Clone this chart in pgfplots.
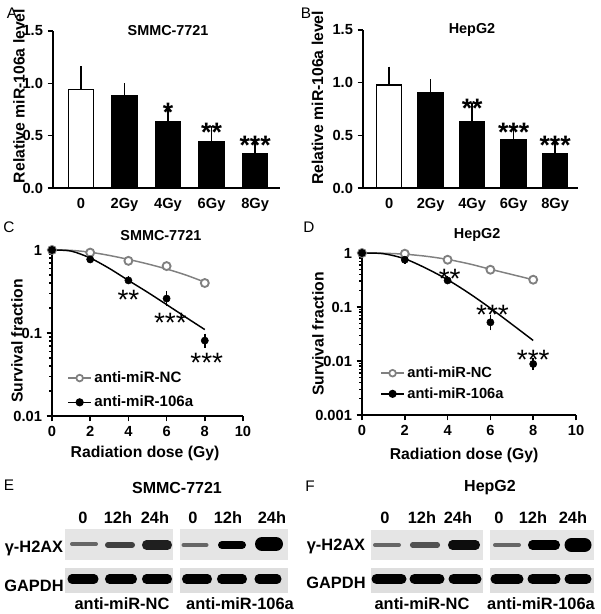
\documentclass[border=0pt]{standalone}
\usepackage{fontspec}
\setmainfont{Liberation Sans}
\usepackage{pgfplots}
\pgfplotsset{compat=1.18}
\definecolor{ncgray}{RGB}{128,128,128}
\definecolor{blotbg}{RGB}{229,229,229}
\definecolor{blotbg2}{RGB}{222,222,222}

\newcommand\tk{\bfseries\fontsize{11}{12}\selectfont}
\newcommand\lb{\bfseries\fontsize{11.8}{13}\selectfont}
\newcommand\ttl{\bfseries\fontsize{10.8}{12}\selectfont}
\newcommand\bttl{\bfseries\fontsize{12}{14}\selectfont}
\newcommand\rl{\bfseries\fontsize{12.3}{14}\selectfont}
\newcommand\pl{\fontsize{11.5}{13}\selectfont}
\newcommand\bstar{\bfseries\fontsize{20}{20}\selectfont}
\newcommand\lstar{\fontsize{21}{21}\selectfont}

\pgfplotsset{
  prism/.style={scale only axis, axis lines=left,
    axis line style={-, line width=1.1pt},
    tick style={line width=1.1pt, black}, tick align=outside,
    major tick length=4pt, minor tick length=2.2pt,
    ticklabel style={font=\tk}, label style={font=\lb},
    clip=false, /pgf/number format/assume math mode=true},
  colbar/.style={ybar, bar width=18.75pt, bar shift=0pt, draw=black, line width=1.1pt,
    error bars/y dir=plus, error bars/y explicit,
    error bars/error bar style={line width=1.1pt},
    error bars/error mark options={line width=1.1pt, mark size=6.5pt}},
  blot/.style={scale only axis, axis lines=none, clip=false,
    ymin=0, ymax=80, height=60pt},
  box/.style={draw=none, forget plot},
  band/.style={line cap=round, forget plot},
}

\begin{document}
\begin{tikzpicture}[x=0.75pt, y=0.75pt]
\path[use as bounding box] (0,0) rectangle (600,614);

% ---------- A ----------
\begin{axis}[prism, at={(39.75pt,319.5pt)}, anchor=south west,
  width=170.25pt, height=117.75pt,
  xmin=-0.64, xmax=4.57, ymin=0, ymax=1.5,
  xtick={0,1,2,3,4}, xticklabels={0,2Gy,4Gy,6Gy,8Gy},
  xtick style={draw=none},
  ytick={0,0.5,1,1.5}, yticklabels={0.0,0.5,1.0,1.5},
  ylabel={Relative miR-106a level},
  ylabel style={at={(axis description cs:-0.15,0.586)}, anchor=center}]
\addplot[colbar, fill=white] coordinates {(0,0.94) +- (0,0.14)};
\addplot[colbar, fill=black] coordinates {
  (1,0.88) +- (0,0.04)
  (2,0.63) +- (0,0.07)
  (3,0.44) +- (0,0.07)
  (4,0.33) +- (0,0.07)};
\node[font=\ttl] at (rel axis cs:0.507,1.0) {SMMC-7721};
\node[font=\bstar, yshift=-5pt] at (axis cs:2,0.79) {*};
\node[font=\bstar, yshift=-5pt] at (axis cs:3,0.595) {**};
\node[font=\bstar, yshift=-5pt] at (axis cs:4,0.47) {***};
\end{axis}

% ---------- B ----------
\begin{axis}[prism, at={(272.25pt,319.5pt)}, anchor=south west,
  width=161.25pt, height=118.5pt,
  xmin=-0.63, xmax=4.55, ymin=0, ymax=1.5,
  xtick={0,1,2,3,4}, xticklabels={0,2Gy,4Gy,6Gy,8Gy},
  xtick style={draw=none},
  ytick={0,0.5,1,1.5}, yticklabels={0.0,0.5,1.0,1.5},
  ylabel={Relative miR-106a level},
  ylabel style={at={(axis description cs:-0.212,0.57)}, anchor=center}]
\addplot[colbar, fill=white] coordinates {(0,0.98) +- (0,0.09)};
\addplot[colbar, fill=black] coordinates {
  (1,0.90) +- (0,0.05)
  (2,0.63) +- (0,0.09)
  (3,0.46) +- (0,0.05)
  (4,0.33) +- (0,0.06)};
\node[font=\ttl] at (rel axis cs:0.507,1.0) {HepG2};
\node[font=\bstar, yshift=-5pt] at (axis cs:2,0.82) {**};
\node[font=\bstar, yshift=-5pt] at (axis cs:3,0.59) {***};
\node[font=\bstar, yshift=-5pt] at (axis cs:4,0.465) {***};
\end{axis}

% ---------- C ----------
\begin{axis}[prism, at={(39pt,148.5pt)}, anchor=south west,
  width=143.25pt, height=124.5pt,
  xmin=0, xmax=10, ymode=log, ymin=0.01, ymax=1,
  xtick={0,2,4,6,8,10}, xticklabels={0,2,4,6,8,10},
  ytick={0.01,0.1,1}, yticklabels={0.01,0.1,1},
  xlabel={Radiation dose (Gy)},
  xlabel style={at={(axis description cs:0.487,-0.223)}, anchor=center},
  ylabel={Survival fraction},
  ylabel style={at={(axis description cs:-0.183,0.452)}, anchor=center},
  legend style={draw=none, fill=none, at={(rel axis cs:0.08,0.285)}, anchor=north west,
    font=\bfseries\fontsize{11.3}{13}\selectfont, row sep=4.5pt, inner sep=0pt},
  legend cell align=left]
% fitted curves
\addplot[ncgray, line width=1.1pt, smooth, forget plot] coordinates {
  (0,1) (1,0.99) (2,0.94) (3,0.86) (4,0.77) (5,0.68) (6,0.59) (7,0.50) (8,0.41)};
\addplot[ncgray, only marks, mark=*, mark size=3pt,
  mark options={fill=white, line width=1.4pt}, forget plot] coordinates {
  (0,1) (2,0.93) (4,0.74) (6,0.64) (8,0.40)};
\addplot[black, line width=1.1pt, smooth, forget plot] coordinates {
  (0,1) (1,0.97) (2,0.80) (3,0.60) (4,0.43) (5,0.31) (6,0.22) (7,0.155) (8,0.11)};
\addplot[black, only marks, mark=*, mark size=2.7pt, forget plot,
  error bars/.cd, y dir=both, y explicit,
  error bar style={line width=1.3pt},
  error mark options={line width=1.3pt, mark size=3pt}] coordinates {
  (0,1) +- (0,0)
  (2,0.77) +- (0,0)
  (4,0.43) +- (0,0)
  (6,0.26) +- (0,0.025)
  (8,0.081) +- (0,0.007)};
\addlegendimage{ncgray, line width=1.1pt, mark=*, mark size=2.5pt, mark options={fill=white, line width=1.3pt}}
\addlegendentry{anti-miR-NC}
\addlegendimage{black, line width=1.1pt, mark=*, mark size=2.5pt}
\addlegendentry{anti-miR-106a}
\node[font=\ttl] at (rel axis cs:0.57,1.09) {SMMC-7721};
\node[font=\lstar, yshift=-5pt] at (axis cs:4.0,0.30) {**};
\node[font=\lstar, yshift=-5pt] at (axis cs:6.2,0.16) {***};
\node[font=\lstar, yshift=-5pt] at (axis cs:8.1,0.052) {***};
\end{axis}

% ---------- D ----------
\begin{axis}[prism, at={(271.5pt,149.25pt)}, anchor=south west,
  width=160.5pt, height=121.5pt,
  xmin=0, xmax=10, ymode=log, ymin=0.001, ymax=1,
  xtick={0,2,4,6,8,10}, xticklabels={0,2,4,6,8,10},
  ytick={0.001,0.01,0.1,1}, yticklabels={0.001,0.01,0.1,1},
  xlabel={Radiation dose (Gy)},
  xlabel style={at={(axis description cs:0.477,-0.247)}, anchor=center},
  ylabel={Survival fraction},
  ylabel style={at={(axis description cs:-0.206,0.5)}, anchor=center},
  legend style={draw=none, fill=none, at={(rel axis cs:0.085,0.315)}, anchor=north west,
    font=\bfseries\fontsize{11}{13}\selectfont, row sep=2pt, inner sep=0pt},
  legend cell align=left]
\addplot[ncgray, line width=1.1pt, smooth, forget plot] coordinates {
  (0,1) (1,0.99) (2,0.95) (3,0.87) (4,0.76) (5,0.63) (6,0.50) (7,0.40) (8,0.32)};
\addplot[ncgray, only marks, mark=*, mark size=3pt,
  mark options={fill=white, line width=1.4pt}, forget plot] coordinates {
  (0,1) (2,0.97) (4,0.75) (6,0.49) (8,0.32)};
\addplot[black, line width=1.1pt, smooth, forget plot] coordinates {
  (0,1) (1,0.97) (2,0.78) (3,0.52) (4,0.32) (5,0.18) (6,0.095) (7,0.048) (8,0.024)};
\addplot[black, only marks, mark=*, mark size=2.7pt, forget plot,
  error bars/.cd, y dir=both, y explicit,
  error bar style={line width=1.3pt},
  error mark options={line width=1.3pt, mark size=3pt}] coordinates {
  (0,1) +- (0,0)
  (2,0.75) +- (0,0)
  (4,0.31) +- (0,0)
  (6,0.052) +- (0,0.008)
  (8,0.0088) +- (0,0.0008)};
\addlegendimage{ncgray, line width=1.1pt, mark=*, mark size=2.5pt, mark options={fill=white, line width=1.3pt}}
\addlegendentry{anti-miR-NC}
\addlegendimage{black, line width=1.1pt, mark=*, mark size=2.5pt}
\addlegendentry{anti-miR-106a}
\node[font=\ttl] at (rel axis cs:0.538,1.11) {HepG2};
\node[font=\lstar, yshift=-5pt] at (axis cs:4.1,0.45) {**};
\node[font=\lstar, yshift=-5pt] at (axis cs:6.1,0.095) {***};
\node[font=\lstar, yshift=-5pt] at (axis cs:8.0,0.014) {***};
\end{axis}

% ---------- E (blot; y = 600 - pixel row) ----------
\begin{axis}[blot, at={(45pt,10.5pt)}, anchor=south west,
  width=180pt, xmin=60, xmax=300]
\addplot[box, fill=blotbg] coordinates {(65,40) (173,40) (173,71) (65,71)} -- cycle;
\addplot[box, fill=blotbg] coordinates {(180,40) (288,40) (288,71) (180,71)} -- cycle;
\addplot[box, fill=blotbg2] coordinates {(65,7) (173,7) (173,32) (65,32)} -- cycle;
\addplot[box, fill=blotbg2] coordinates {(180,7) (288,7) (288,32) (180,32)} -- cycle;
% gamma-H2AX
\addplot[band, line width=3pt, black!60] coordinates {(72,56) (96,56)};
\addplot[band, line width=4.5pt, black!75] coordinates {(108,55) (132,55)};
\addplot[band, line width=6.8pt, black!88] coordinates {(146.5,55) (167.5,55)};
\addplot[band, line width=3pt, black!60] coordinates {(183.5,55) (206.5,55)};
\addplot[band, line width=6pt, black] coordinates {(222,55) (242,55)};
\addplot[band, line width=10.5pt, black] coordinates {(262,56) (276,56)};
% GAPDH
\addplot[band, line width=6.8pt, black] coordinates {(72,21) (94,21)};
\addplot[band, line width=6.8pt, black] coordinates {(109.5,21) (132.5,21)};
\addplot[band, line width=6.8pt, black] coordinates {(146.5,21) (167.5,21)};
\addplot[band, line width=6.8pt, black] coordinates {(186.5,21) (207.5,21)};
\addplot[band, line width=6.8pt, black] coordinates {(221.5,21) (242.5,21)};
\addplot[band, line width=6.8pt, black] coordinates {(259,21) (277,21)};
\end{axis}

% ---------- F (blot; y = 600 - pixel row) ----------
\begin{axis}[blot, at={(225pt,10.5pt)}, anchor=south west,
  width=225pt, xmin=300, xmax=600]
\addplot[box, fill=blotbg] coordinates {(371,40) (483,40) (483,70) (371,70)} -- cycle;
\addplot[box, fill=blotbg] coordinates {(490,40) (594,40) (594,70) (490,70)} -- cycle;
\addplot[box, fill=blotbg2] coordinates {(371,7) (483,7) (483,32) (371,32)} -- cycle;
\addplot[box, fill=blotbg2] coordinates {(490,7) (594,7) (594,32) (490,32)} -- cycle;
\addplot[band, line width=3pt, black!60] coordinates {(375,55) (399,55)};
\addplot[band, line width=3.8pt, black!68] coordinates {(412.5,55) (437.5,55)};
\addplot[band, line width=6.8pt, black!95] coordinates {(452.5,55) (475.5,55)};
\addplot[band, line width=3pt, black!60] coordinates {(495,55) (519,55)};
\addplot[band, line width=6.8pt, black] coordinates {(532.5,55) (555.5,55)};
\addplot[band, line width=10.5pt, black] coordinates {(571.5,55) (584.5,55)};
\addplot[band, line width=7.5pt, black] coordinates {(376.5,21) (401.5,21)};
\addplot[band, line width=7.5pt, black] coordinates {(414.5,21) (439.5,21)};
\addplot[band, line width=7.5pt, black] coordinates {(453.5,21) (476.5,21)};
\addplot[band, line width=7.5pt, black] coordinates {(495.5,21) (518.5,21)};
\addplot[band, line width=7.5pt, black] coordinates {(532.5,21) (555.5,21)};
\addplot[band, line width=7.5pt, black] coordinates {(569.5,21) (586.5,21)};
\end{axis}

% ---------- panel letters and blot labels ----------
\node[font=\pl] at (12,601) {A};
\node[font=\pl] at (306,601) {B};
\node[font=\pl] at (9,387) {C};
\node[font=\pl] at (309,387) {D};
\node[font=\pl] at (9,129) {E};
\node[font=\pl] at (310,128) {F};

\node[font=\bttl] at (177,126) {SMMC-7721};
\node[font=\bttl] at (490,126) {HepG2};
\foreach \x/\t in {83/0,118/12h,155/24h,193/0,228/12h,272/24h,
                   385/0,422/12h,458/24h,499/0,533/12h,573/24h}
  \node[font=\rl] at (\x,96) {\t};
\node[font=\rl] at (34,66) {γ-H2AX};
\node[font=\rl] at (34,28) {GAPDH};
\node[font=\rl] at (336,68) {γ-H2AX};
\node[font=\rl] at (336,31) {GAPDH};
\node[font=\rl] at (122,10) {anti-miR-NC};
\node[font=\rl] at (240,10) {anti-miR-106a};
\node[font=\rl] at (422,10) {anti-miR-NC};
\node[font=\rl] at (541,10) {anti-miR-106a};
\end{tikzpicture}
\end{document}
